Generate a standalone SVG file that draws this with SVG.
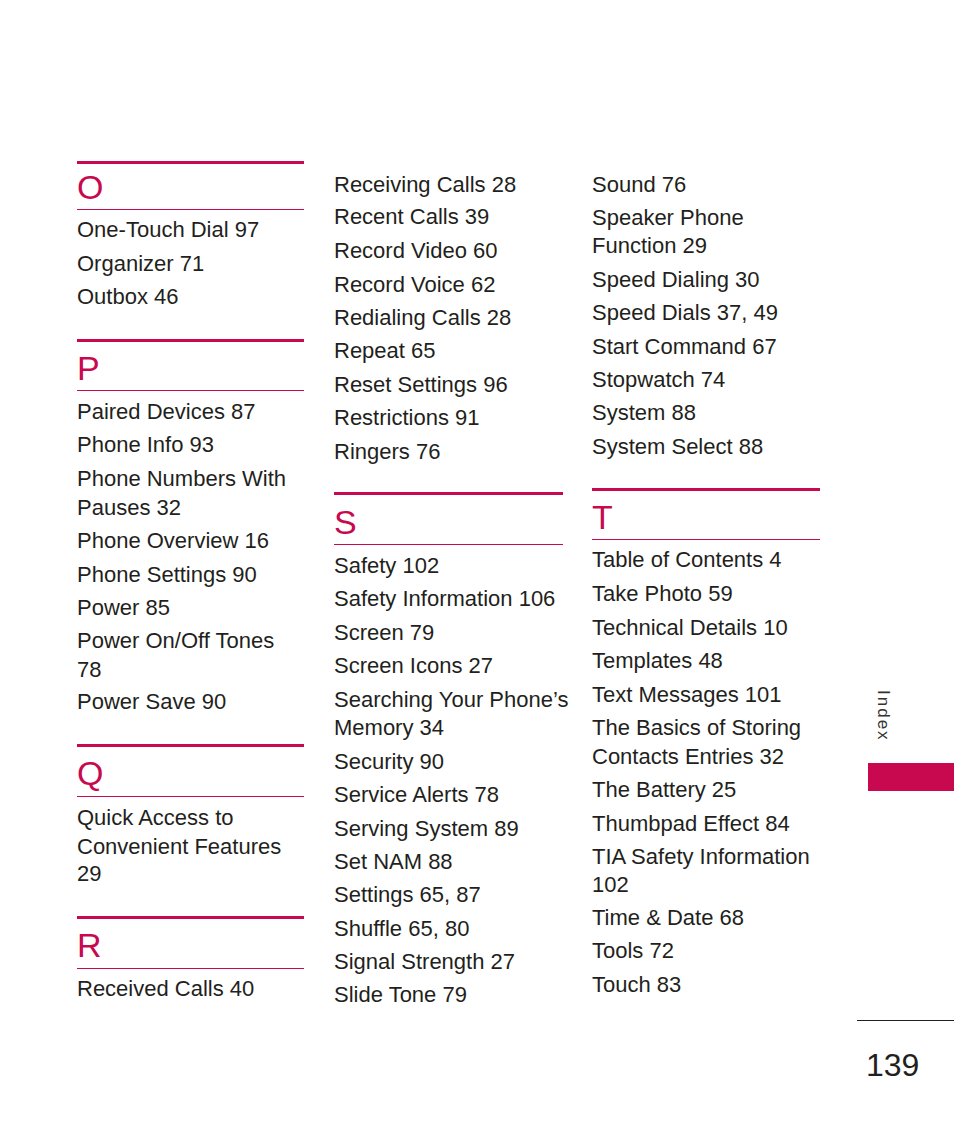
<svg xmlns="http://www.w3.org/2000/svg" width="954" height="1145" viewBox="0 0 954 1145">
<style>
text{font-family:"Liberation Sans",Arial,sans-serif;fill:#231f20}
.e{font-size:22px}
.h{font-size:34px;fill:#c8094f}
.t{stroke:#c8094f;stroke-width:3}
.n{stroke:#c8094f;stroke-width:1.2}
</style>
<rect width="954" height="1145" fill="#fff"/>
<g id="col1">
<line class="t" x1="77" y1="162.5" x2="304" y2="162.5"/><text class="h" x="77" y="199">O</text><line class="n" x1="77" y1="209.5" x2="304" y2="209.5"/>
<text class="e" x="77" y="237">One-Touch Dial 97</text>
<text class="e" x="77" y="271">Organizer 71</text>
<text class="e" x="77" y="304">Outbox 46</text>
<line class="t" x1="77" y1="340.5" x2="304" y2="340.5"/><text class="h" x="77" y="380">P</text><line class="n" x1="77" y1="390.5" x2="304" y2="390.5"/>
<text class="e" x="77" y="419">Paired Devices 87</text>
<text class="e" x="77" y="452">Phone Info 93</text>
<text class="e" x="77" y="486">Phone Numbers With</text>
<text class="e" x="77" y="515">Pauses 32</text>
<text class="e" x="77" y="548">Phone Overview 16</text>
<text class="e" x="77" y="582">Phone Settings 90</text>
<text class="e" x="77" y="615">Power 85</text>
<text class="e" x="77" y="648">Power On/Off Tones</text>
<text class="e" x="77" y="677">78</text>
<text class="e" x="77" y="709">Power Save 90</text>
<line class="t" x1="77" y1="745.5" x2="304" y2="745.5"/><text class="h" x="77" y="785">Q</text><line class="n" x1="77" y1="796.5" x2="304" y2="796.5"/>
<text class="e" x="77" y="825">Quick Access to</text>
<text class="e" x="77" y="854">Convenient Features</text>
<text class="e" x="77" y="881">29</text>
<line class="t" x1="77" y1="917.5" x2="304" y2="917.5"/><text class="h" x="77" y="957">R</text><line class="n" x1="77" y1="968.5" x2="304" y2="968.5"/>
<text class="e" x="77" y="996">Received Calls 40</text>
</g>
<g id="col2">
<text class="e" x="334" y="192">Receiving Calls 28</text>
<text class="e" x="334" y="224">Recent Calls 39</text>
<text class="e" x="334" y="258">Record Video 60</text>
<text class="e" x="334" y="292">Record Voice 62</text>
<text class="e" x="334" y="325">Redialing Calls 28</text>
<text class="e" x="334" y="358">Repeat 65</text>
<text class="e" x="334" y="392">Reset Settings 96</text>
<text class="e" x="334" y="425">Restrictions 91</text>
<text class="e" x="334" y="459">Ringers 76</text>
<line class="t" x1="334" y1="493.5" x2="563" y2="493.5"/><text class="h" x="334" y="534">S</text><line class="n" x1="334" y1="544.5" x2="563" y2="544.5"/>
<text class="e" x="334" y="573">Safety 102</text>
<text class="e" x="334" y="606">Safety Information 106</text>
<text class="e" x="334" y="640">Screen 79</text>
<text class="e" x="334" y="673">Screen Icons 27</text>
<text class="e" x="334" y="707">Searching Your Phone’s</text>
<text class="e" x="334" y="735">Memory 34</text>
<text class="e" x="334" y="769">Security 90</text>
<text class="e" x="334" y="802">Service Alerts 78</text>
<text class="e" x="334" y="836">Serving System 89</text>
<text class="e" x="334" y="869">Set NAM 88</text>
<text class="e" x="334" y="902">Settings 65, 87</text>
<text class="e" x="334" y="936">Shuffle 65, 80</text>
<text class="e" x="334" y="969">Signal Strength 27</text>
<text class="e" x="334" y="1002">Slide Tone 79</text>
</g>
<g id="col3">
<text class="e" x="592" y="192">Sound 76</text>
<text class="e" x="592" y="225">Speaker Phone</text>
<text class="e" x="592" y="253">Function 29</text>
<text class="e" x="592" y="287">Speed Dialing 30</text>
<text class="e" x="592" y="320">Speed Dials 37, 49</text>
<text class="e" x="592" y="354">Start Command 67</text>
<text class="e" x="592" y="387">Stopwatch 74</text>
<text class="e" x="592" y="420">System 88</text>
<text class="e" x="592" y="454">System Select 88</text>
<line class="t" x1="592" y1="489.5" x2="820" y2="489.5"/><text class="h" x="592" y="529">T</text><line class="n" x1="592" y1="539.5" x2="820" y2="539.5"/>
<text class="e" x="592" y="567">Table of Contents 4</text>
<text class="e" x="592" y="601">Take Photo 59</text>
<text class="e" x="592" y="635">Technical Details 10</text>
<text class="e" x="592" y="668">Templates 48</text>
<text class="e" x="592" y="702">Text Messages 101</text>
<text class="e" x="592" y="735">The Basics of Storing</text>
<text class="e" x="592" y="764">Contacts Entries 32</text>
<text class="e" x="592" y="797">The Battery 25</text>
<text class="e" x="592" y="831">Thumbpad Effect 84</text>
<text class="e" x="592" y="864">TIA Safety Information</text>
<text class="e" x="592" y="892">102</text>
<text class="e" x="592" y="925">Time &amp; Date 68</text>
<text class="e" x="592" y="958">Tools 72</text>
<text class="e" x="592" y="992">Touch 83</text>
</g>
<g id="tab">
<text transform="translate(878,690) rotate(90)" style="font-size:17px;fill:#333;letter-spacing:2px">Index</text>
<rect x="868" y="763" width="86" height="28" fill="#c8094f"/>
<line x1="857" y1="1020.5" x2="954" y2="1020.5" stroke="#231f20" stroke-width="1.2"/>
<text x="866" y="1076" style="font-size:32px">139</text>
</g>
</svg>
